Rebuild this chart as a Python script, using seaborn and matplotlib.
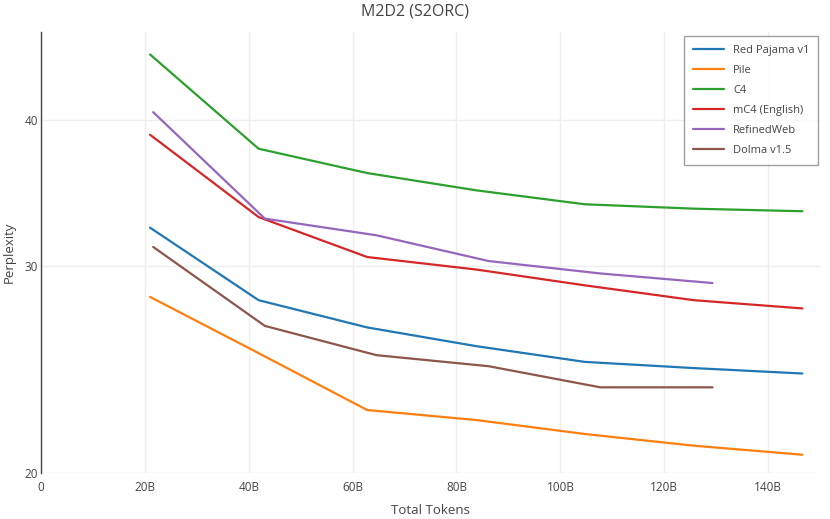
import matplotlib
matplotlib.use("Agg")
import matplotlib.pyplot as plt
import seaborn as sns
import pandas as pd
from matplotlib.ticker import FixedLocator, NullLocator

# ---- data (tokens in billions, perplexity) ----
series_names = ["Red Pajama v1", "Pile", "C4", "mC4 (English)", "RefinedWeb", "Dolma v1.5"]
x_main = [21.0, 41.9, 62.8, 83.8, 104.7, 125.7, 146.6]
x_alt = [21.6, 43.1, 64.6, 86.2, 107.7, 129.3]

red_pajama = [32.36, 28.07, 26.61, 25.65, 24.87, 24.57, 24.31]
pile = [28.25, 25.30, 22.63, 22.19, 21.59, 21.10, 20.73]
c4 = [45.45, 37.78, 36.02, 34.82, 33.88, 33.59, 33.42]
mc4 = [38.83, 33.04, 30.55, 29.81, 28.90, 28.07, 27.62]
refinedweb = [40.59, 32.94, 31.88, 30.31, 29.58, 29.03]
dolma = [31.16, 26.69, 25.20, 24.66, 23.66, 23.66]

x_ticks = [0, 20, 40, 60, 80, 100, 120, 140]
x_tick_labels = ["0", "20B", "40B", "60B", "80B", "100B", "120B", "140B"]
y_ticks = [20, 30, 40]
y_tick_labels = ["20", "30", "40"]

title = "M2D2 (S2ORC)"
x_label = "Total Tokens"
y_label = "Perplexity"

values = [red_pajama, pile, c4, mc4, refinedweb, dolma]
xs = [x_main, x_main, x_main, x_main, x_alt, x_alt]

rows = []
for name, xv, yv in zip(series_names, xs, values):
    for a, b in zip(xv, yv):
        rows.append({"tokens": a, "ppl": b, "dataset": name})
df = pd.DataFrame(rows)

colors = ["#1f77b4", "#ff7f0e", "#2ca02c", "#d62728", "#9467bd", "#8c564b"]

sns.set_theme(style="white")
plt.rcParams["font.family"] = ["Open Sans", "DejaVu Sans"]

fig = plt.figure(figsize=(8.3, 5.19), dpi=100)
ax = fig.add_axes([41 / 830, 1 - 473 / 519, 779 / 830, 441 / 519])

sns.lineplot(data=df, x="tokens", y="ppl", hue="dataset", hue_order=series_names,
             palette=colors, estimator=None, sort=False, linewidth=1.6, ax=ax)

ax.set_yscale("log")
ax.set_ylim(20, 47.5)
ax.set_xlim(0, 150)

ax.yaxis.set_major_locator(FixedLocator(y_ticks))
ax.yaxis.set_minor_locator(NullLocator())
ax.set_yticks(y_ticks)
ax.set_yticklabels(y_tick_labels)
ax.set_xticks(x_ticks)
ax.set_xticklabels(x_tick_labels)

ax.grid(True, color="#eeeeee", linewidth=1)
ax.set_axisbelow(True)
for s in ["top", "right", "bottom"]:
    ax.spines[s].set_visible(False)
ax.spines["left"].set_color("#444444")
ax.spines["left"].set_linewidth(1)

ax.tick_params(axis="both", length=0, labelsize=8.5, colors="#444444", pad=2)
ax.tick_params(axis="x", pad=6)

ax.set_xlabel(x_label, fontsize=9.5, color="#444444")
ax.set_ylabel(y_label, fontsize=9.5, color="#444444")
ax.xaxis.set_label_coords(0.5, (473 - 511) / 441)
ax.yaxis.set_label_coords((9 - 41) / 779, 0.5)
ax.xaxis.label.set_va("center")
ax.yaxis.label.set_va("center")
fig.text(0.5, 1 - 12 / 519, title, ha="center", va="center", fontsize=11.5, color="#444444")

leg = ax.legend(loc="upper right", bbox_to_anchor=(0.998, 0.99), borderaxespad=0,
                frameon=True, fancybox=False, fontsize=8, handlelength=2.8,
                labelspacing=0.8, borderpad=0.8, handletextpad=0.8)
leg.get_frame().set_edgecolor("#888888")
leg.get_frame().set_linewidth(1)
for t in leg.get_texts():
    t.set_color("#444444")

fig.savefig("out.png", dpi=100)
